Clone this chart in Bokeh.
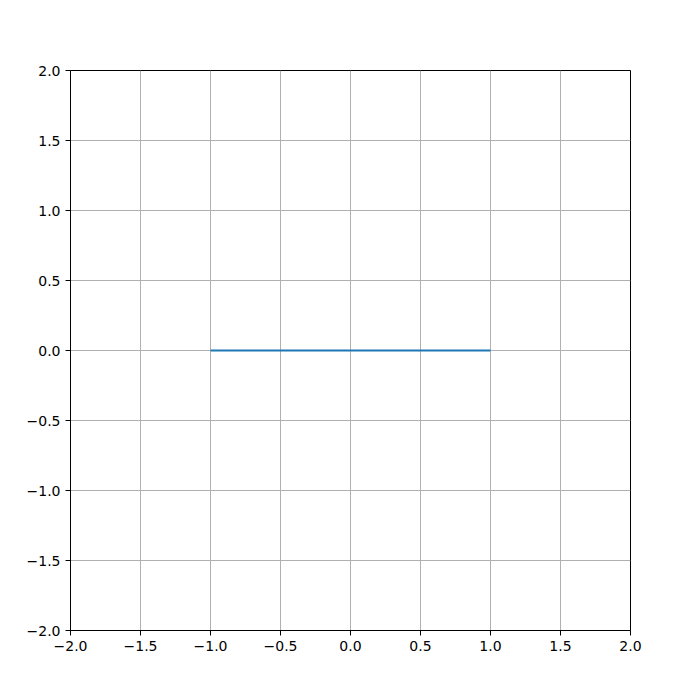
from bokeh.plotting import figure
from bokeh.models import Range1d, FixedTicker, CustomJSTickFormatter
from bokeh.embed import file_html
from bokeh.resources import INLINE

line_x = [-1.0, 1.0]
line_y = [0.0, 0.0]
tick_values = [-2.0, -1.5, -1.0, -0.5, 0.0, 0.5, 1.0, 1.5, 2.0]

p = figure(width=700, height=700, output_backend="svg", toolbar_location=None,
           x_range=Range1d(-2, 2), y_range=Range1d(-2, 2))
p.min_border_left = 70
p.min_border_right = 70
p.min_border_top = 70
p.min_border_bottom = 70
p.background_fill_color = "white"
p.border_fill_color = "white"
p.outline_line_color = "black"
p.outline_line_width = 1

fmt = CustomJSTickFormatter(code="return tick.toFixed(1).replace('-', '\\u2212');")
for ax in (p.xaxis[0], p.yaxis[0]):
    ax.ticker = FixedTicker(ticks=tick_values)
    ax.formatter = fmt
    ax.axis_line_color = "black"
    ax.axis_line_width = 1
    ax.major_tick_line_color = "black"
    ax.major_tick_line_width = 1
    ax.major_tick_in = 0
    ax.major_tick_out = 5
    ax.minor_tick_line_color = None
    ax.major_label_text_font = "DejaVu Sans"
    ax.major_label_text_font_size = "14px"
    ax.major_label_text_color = "black"
    ax.major_label_standoff = 5

for g in (p.xgrid[0], p.ygrid[0]):
    g.grid_line_color = "#b0b0b0"
    g.grid_line_width = 1
    g.grid_line_alpha = 1.0

p.line(line_x, line_y, line_color="#1f77b4", line_width=2)

open("out.html", "w").write(file_html(p, INLINE))
